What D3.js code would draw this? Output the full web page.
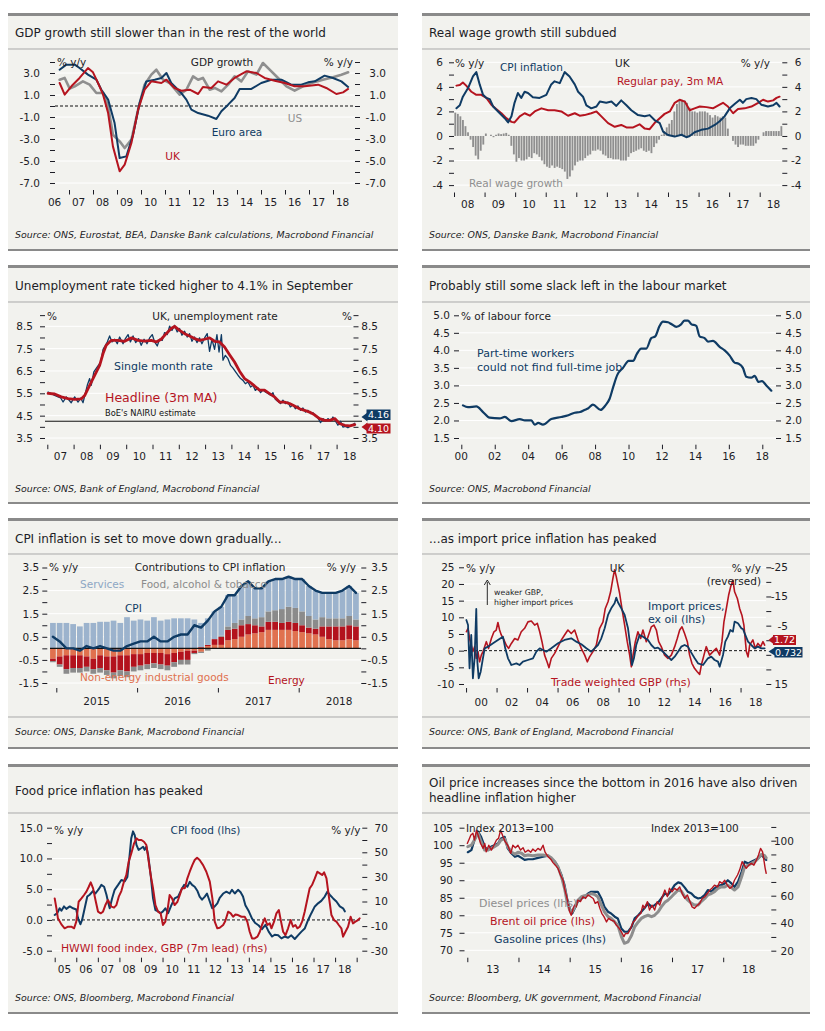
<!DOCTYPE html>
<html>
<head>
<meta charset="utf-8">
<script src="https://cdn.jsdelivr.net/npm/d3@7"></script>
<style>
  body { margin: 0; background: #fff; }
  svg text { font-family: "DejaVu Sans", sans-serif; }
</style>
</head>
<body>
<svg id="chart" width="825" height="1031"></svg>
<script>
// ---------- data ----------
// GDP growth, % y/y  [decimal year, value]
const gdpEuro = [[2006.61,3.30],[2006.89,3.76],[2007.24,3.76],[2007.44,3.45],[2007.79,2.85],[2008.14,2.39],[2008.35,1.48],[2008.63,0.58],[2008.90,-1.55],[2009.11,-4.73],[2009.39,-4.58],[2009.67,-2.61],[2009.94,0.27],[2010.22,2.24],[2010.57,2.39],[2010.85,2.55],[2011.06,3.0],[2011.26,2.09],[2011.68,1.18],[2011.89,0.58],[2012.10,-0.33],[2012.38,-0.64],[2012.79,-0.88],[2013.14,-1.18],[2013.35,-0.48],[2013.63,0.12],[2013.90,0.73],[2014.11,1.55],[2014.60,1.55],[2015.01,2.09],[2015.43,2.39],[2015.85,2.39],[2016.26,1.94],[2016.68,1.94],[2016.96,2.15],[2017.24,2.24],[2017.65,2.76],[2018.0,2.55],[2018.35,2.24],[2018.63,1.73]];
const gdpUK = [[2006.61,2.09],[2006.82,1.03],[2007.10,1.79],[2007.44,2.55],[2007.79,3.45],[2008.0,3.06],[2008.21,2.09],[2008.42,1.03],[2008.63,-0.64],[2008.83,-3.67],[2009.11,-5.94],[2009.32,-5.33],[2009.60,-3.36],[2009.88,-0.33],[2010.15,1.48],[2010.43,2.24],[2010.85,2.09],[2011.06,2.39],[2011.40,1.64],[2011.68,1.39],[2012.03,1.48],[2012.38,1.09],[2012.58,1.73],[2012.93,1.64],[2013.21,2.24],[2013.56,1.94],[2013.90,2.55],[2014.39,3.15],[2014.81,3.0],[2015.15,2.55],[2015.57,2.30],[2015.99,2.09],[2016.40,1.79],[2016.82,1.79],[2017.38,1.94],[2017.72,1.64],[2018.14,1.09],[2018.42,1.24],[2018.63,1.55]];
const gdpUS = [[2006.61,2.39],[2006.82,2.55],[2007.03,1.58],[2007.24,1.79],[2007.58,2.24],[2007.86,1.94],[2008.14,1.18],[2008.42,1.18],[2008.63,-0.03],[2008.83,-2.61],[2009.11,-3.21],[2009.32,-3.82],[2009.60,-3.06],[2009.88,-0.33],[2010.15,1.94],[2010.43,2.85],[2010.64,3.30],[2010.92,2.39],[2011.19,2.09],[2011.61,1.03],[2011.89,1.48],[2012.17,2.70],[2012.38,2.39],[2012.58,2.55],[2012.86,1.48],[2013.07,1.64],[2013.35,1.33],[2013.63,1.94],[2013.90,2.70],[2014.18,2.24],[2014.46,3.15],[2014.81,2.85],[2015.08,3.91],[2015.36,3.30],[2015.71,2.55],[2016.06,1.79],[2016.40,1.39],[2016.75,1.79],[2017.10,2.09],[2017.58,2.39],[2018.0,2.61],[2018.35,2.85],[2018.63,3.06]];

// Real wages: monthly real wage growth from Jan 2008, CPI and regular pay
const wageStart = 2008;
const realWage = [
  1.9,1.8,1.6,1.3,0.8,0.3,-0.3,-0.9,-1.6,-1.9,-1.2,-0.7,
  0.2,0.0,0.1,-0.1,0.1,0.2,0.15,0.2,0.25,0.1,-0.8,-1.5,
  -2.1,-1.8,-2.0,-2.0,-1.9,-1.7,-1.8,-1.4,-1.5,-1.7,-2.0,-2.3,
  -2.5,-2.6,-2.4,-2.6,-2.5,-2.6,-2.7,-2.9,-3.5,-3.3,-2.8,-2.4,
  -2.1,-2.0,-2.0,-1.8,-1.6,-1.5,-1.2,-1.2,-1.1,-1.2,-1.5,-1.6,
  -1.8,-1.8,-1.9,-1.9,-1.9,-2.0,-2.0,-2.0,-1.7,-1.4,-1.3,-1.2,
  -1.1,-1.0,-1.2,-1.3,-1.2,-1.4,-0.9,-0.6,-0.3,0.1,0.4,0.7,
  1.0,1.3,2.0,2.6,2.9,2.95,2.9,2.7,2.3,2.0,2.0,1.9,
  2.0,2.0,2.0,1.9,1.7,1.5,1.7,1.6,1.5,1.6,1.5,0.6,
  0.0,-0.4,-0.7,-0.9,-0.7,-0.7,-0.8,-0.8,-0.8,-0.8,-0.6,-0.3,
  0.0,0.3,0.4,0.4,0.4,0.4,0.4,0.4,0.8];
const ukCPI = [[2008.08,2.26],[2008.19,2.5],[2008.29,3.2],[2008.46,3.9],[2008.62,4.85],[2008.73,5.2],[2008.84,4.2],[2008.95,3.35],[2009.06,3.1],[2009.17,3.0],[2009.28,2.4],[2009.44,2.0],[2009.66,1.45],[2009.77,1.1],[2009.88,1.6],[2009.98,2.7],[2010.09,3.5],[2010.20,3.1],[2010.31,3.6],[2010.42,3.5],[2010.58,3.15],[2010.80,3.1],[2011.02,3.35],[2011.18,4.2],[2011.29,4.45],[2011.46,4.3],[2011.62,5.2],[2011.78,4.85],[2011.95,4.2],[2012.06,3.6],[2012.22,3.2],[2012.33,2.5],[2012.49,2.25],[2012.66,2.4],[2012.77,2.8],[2012.98,2.7],[2013.15,2.8],[2013.31,2.45],[2013.47,2.9],[2013.64,2.5],[2013.80,2.1],[2014.02,1.7],[2014.24,1.6],[2014.40,1.7],[2014.56,1.3],[2014.73,1.05],[2014.84,0.35],[2015.00,0.08],[2015.22,-0.05],[2015.44,0.1],[2015.60,-0.1],[2015.71,0.0],[2015.87,0.3],[2016.09,0.5],[2016.31,0.6],[2016.53,0.9],[2016.69,1.2],[2016.85,1.6],[2017.02,2.25],[2017.18,2.6],[2017.35,2.95],[2017.45,2.7],[2017.56,3.0],[2017.73,3.1],[2017.89,3.0],[2018.05,2.55],[2018.27,2.4],[2018.44,2.5],[2018.55,2.7],[2018.65,2.4]];
const regularPay = [[2008.08,4.1],[2008.19,4.15],[2008.29,4.35],[2008.40,4.1],[2008.57,3.6],[2008.73,3.35],[2008.89,3.35],[2009.06,3.1],[2009.22,2.55],[2009.38,2.2],[2009.55,1.85],[2009.71,1.45],[2009.88,1.15],[2009.98,1.1],[2010.15,1.6],[2010.31,1.85],[2010.48,1.65],[2010.64,2.0],[2010.86,2.25],[2011.08,2.1],[2011.29,2.1],[2011.51,2.0],[2011.73,1.65],[2011.95,1.85],[2012.11,1.65],[2012.27,1.7],[2012.49,1.85],[2012.66,2.0],[2012.82,1.6],[2013.04,1.05],[2013.26,0.75],[2013.47,0.9],[2013.64,0.7],[2013.86,0.7],[2014.07,0.95],[2014.24,0.6],[2014.40,0.55],[2014.56,1.05],[2014.73,1.45],[2014.89,1.8],[2015.06,2.0],[2015.22,2.7],[2015.38,2.95],[2015.55,2.8],[2015.71,2.1],[2015.87,2.25],[2016.04,2.4],[2016.26,2.35],[2016.47,2.25],[2016.69,2.55],[2016.80,2.7],[2016.96,2.4],[2017.13,1.85],[2017.29,2.2],[2017.51,2.25],[2017.73,2.4],[2017.95,2.7],[2018.11,2.95],[2018.27,2.8],[2018.44,2.9],[2018.55,3.1],[2018.65,3.2]];

// Unemployment, %
const unempHeadline = [[2007.03,5.5],[2007.28,5.47],[2007.53,5.34],[2007.79,5.26],[2008.04,5.23],[2008.29,5.25],[2008.42,5.4],[2008.61,5.86],[2008.80,6.3],[2008.99,6.75],[2009.12,7.28],[2009.24,7.65],[2009.43,7.87],[2009.69,7.87],[2009.94,7.83],[2010.19,7.98],[2010.45,7.87],[2010.70,7.84],[2010.95,7.87],[2011.14,7.8],[2011.33,7.92],[2011.52,8.17],[2011.71,8.4],[2011.84,8.5],[2012.03,8.32],[2012.22,8.17],[2012.41,8.07],[2012.60,7.95],[2012.79,7.87],[2012.98,7.92],[2013.17,7.98],[2013.36,7.83],[2013.55,7.8],[2013.74,7.57],[2013.93,7.23],[2014.12,6.9],[2014.31,6.49],[2014.50,6.16],[2014.69,6.01],[2014.88,5.83],[2015.07,5.64],[2015.26,5.64],[2015.45,5.49],[2015.64,5.34],[2015.83,5.11],[2016.02,5.11],[2016.21,5.04],[2016.40,4.93],[2016.59,4.81],[2016.78,4.74],[2016.97,4.66],[2017.16,4.54],[2017.35,4.37],[2017.55,4.29],[2017.74,4.29],[2017.93,4.37],[2018.12,4.14],[2018.31,4.07],[2018.50,4.04],[2018.69,4.10]];
const unempSingle = [[2007.03,5.56],[2007.15,5.49],[2007.28,5.41],[2007.41,5.34],[2007.51,5.29],[2007.60,5.11],[2007.72,5.34],[2007.91,5.08],[2008.04,5.34],[2008.17,5.11],[2008.27,5.29],[2008.36,5.08],[2008.52,5.86],[2008.61,6.16],[2008.67,5.86],[2008.77,6.46],[2008.90,6.68],[2009.03,6.90],[2009.12,7.47],[2009.21,7.65],[2009.28,7.80],[2009.37,8.07],[2009.46,7.80],[2009.56,7.92],[2009.66,7.72],[2009.75,8.02],[2009.88,7.72],[2009.97,7.95],[2010.07,8.13],[2010.16,7.80],[2010.26,8.07],[2010.36,7.77],[2010.47,7.95],[2010.57,7.65],[2010.68,7.92],[2010.79,7.72],[2010.89,7.98],[2010.99,8.13],[2011.08,7.80],[2011.18,7.62],[2011.27,7.92],[2011.37,7.87],[2011.46,8.22],[2011.56,8.13],[2011.65,8.51],[2011.74,8.32],[2011.84,8.54],[2011.94,8.25],[2012.03,8.40],[2012.12,8.10],[2012.22,8.28],[2012.32,8.02],[2012.41,8.17],[2012.50,7.83],[2012.60,8.02],[2012.69,7.77],[2012.79,7.98],[2012.88,7.72],[2012.98,7.98],[2013.08,8.17],[2013.17,7.38],[2013.26,7.92],[2013.36,7.47],[2013.45,8.13],[2013.53,7.35],[2013.62,8.13],[2013.68,6.98],[2013.77,7.20],[2013.87,7.05],[2013.97,6.75],[2014.06,6.63],[2014.16,6.46],[2014.25,6.31],[2014.35,6.16],[2014.44,6.08],[2014.53,5.93],[2014.63,6.01],[2014.73,5.78],[2014.82,5.86],[2014.91,5.63],[2015.01,5.74],[2015.11,5.53],[2015.20,5.66],[2015.29,5.56],[2015.39,5.49],[2015.49,5.41],[2015.58,5.53],[2015.67,5.23],[2015.77,5.14],[2015.87,5.04],[2015.96,5.19],[2016.05,5.04],[2016.15,5.11],[2016.24,4.89],[2016.34,4.99],[2016.43,4.81],[2016.53,4.93],[2016.63,4.74],[2016.72,4.84],[2016.82,4.66],[2016.91,4.74],[2017.01,4.59],[2017.10,4.63],[2017.19,4.49],[2017.29,4.40],[2017.39,4.19],[2017.48,4.37],[2017.58,4.25],[2017.67,4.37],[2017.77,4.25],[2017.86,4.44],[2017.96,4.25],[2018.05,4.07],[2018.15,4.25],[2018.24,3.99],[2018.33,4.02],[2018.43,3.96],[2018.53,4.04],[2018.62,4.10],[2018.69,4.16]];
const nairu = 4.25;

// Part-time workers who could not find full-time job, % of labour force
const partTime = [[2000.10,2.43],[2000.40,2.38],[2000.90,2.40],[2001.30,2.24],[2001.69,2.08],[2002.29,2.06],[2002.60,2.10],[2002.99,1.98],[2003.50,2.04],[2003.80,2.00],[2004.19,2.00],[2004.39,1.88],[2004.60,1.93],[2004.88,1.88],[2005.38,2.04],[2005.98,2.10],[2006.40,2.15],[2006.78,2.22],[2007.10,2.24],[2007.37,2.30],[2007.60,2.35],[2007.87,2.45],[2008.33,2.30],[2008.60,2.42],[2008.87,2.62],[2009.10,2.98],[2009.33,3.30],[2009.67,3.50],[2010.01,3.70],[2010.27,3.70],[2010.50,3.90],[2010.76,4.05],[2011.06,4.05],[2011.36,4.35],[2011.60,4.40],[2011.86,4.70],[2012.06,4.82],[2012.36,4.80],[2012.56,4.75],[2012.86,4.67],[2013.16,4.75],[2013.35,4.85],[2013.55,4.85],[2013.75,4.75],[2014.05,4.70],[2014.25,4.40],[2014.55,4.35],[2014.75,4.25],[2015.05,4.27],[2015.45,4.10],[2015.75,4.00],[2016.05,3.85],[2016.34,3.65],[2016.58,3.62],[2016.84,3.50],[2017.04,3.25],[2017.34,3.22],[2017.54,3.27],[2017.78,3.10],[2017.98,3.12],[2018.24,3.00],[2018.54,2.85]];

// CPI contributions, monthly Dec 2014 - Sep 2018, pp
const cpiFirstMonth = 2014 + 11 / 12;
const cpiNeig = [-0.45,-0.35,-0.3,-0.3,-0.3,-0.35,-0.45,-0.3,-0.35,-0.35,-0.3,-0.3, -0.25,-0.25,-0.2,-0.2,-0.2,-0.25,-0.2,-0.15,-0.1,-0.1,-0.15,0.1, 0.15,0.15,0.35,0.4,0.5,0.6,0.65,0.7,0.8,0.8,0.8,0.8, 0.75,0.7,0.65,0.6,0.5,0.4,0.35,0.35,0.4,0.35];
const cpiEnergy = [-0.1,-0.35,-0.6,-0.55,-0.55,-0.45,-0.45,-0.55,-0.6,-0.7,-0.65,-0.7, -0.55,-0.5,-0.5,-0.45,-0.5,-0.5,-0.4,-0.35,-0.4,-0.1,0.05,0.05, 0.25,0.35,0.45,0.45,0.5,0.45,0.35,0.25,0.35,0.35,0.3,0.35, 0.35,0.3,0.25,0.25,0.45,0.55,0.6,0.6,0.6,0.6];
const cpiFood = [-0.05,-0.1,-0.2,-0.2,-0.2,-0.2,-0.2,-0.2,-0.2,-0.25,-0.25,-0.25, -0.2,-0.2,-0.2,-0.2,-0.2,-0.2,-0.2,-0.2,-0.2,-0.05,-0.05,-0.1, 0.0,0.05,0.15,0.25,0.25,0.35,0.3,0.4,0.45,0.5,0.6,0.65, 0.65,0.6,0.5,0.4,0.4,0.35,0.35,0.35,0.4,0.3];
const cpiServices = [1.1,1.1,1.1,1.05,0.95,1.1,1.1,1.15,1.15,1.2,1.1,1.35, 1.2,1.25,1.2,1.35,1.2,1.25,1.3,1.3,1.3,1.25,1.05,1.15, 1.2,1.25,1.35,1.2,1.45,1.5,1.3,1.25,1.3,1.35,1.3,1.3, 1.25,1.4,1.3,1.25,1.05,1.1,1.1,1.2,1.3,1.15];
const cpiHeadline = [0.5,0.3,0.0,0.0,-0.1,0.1,0.0,0.1,0.0,-0.1,-0.1,0.1, 0.2,0.3,0.3,0.5,0.3,0.3,0.5,0.6,0.6,1.0,0.9,1.2, 1.6,1.8,2.3,2.3,2.7,2.9,2.6,2.6,2.9,3.0,3.0,3.1, 3.0,3.0,2.7,2.5,2.4,2.4,2.4,2.5,2.7,2.4];

// Import prices ex oil (lhs) and trade weighted GBP (rhs, reversed), % y/y
const importPrices = [[1999.02,9.2],[1999.13,7.7],[1999.23,-5.3],[1999.34,4.7],[1999.45,-8.3],[1999.56,-2.3],[1999.67,12.5],[1999.74,-3.3],[1999.83,-8.3],[1999.96,-6.3],[2000.07,-3.3],[2000.22,0.7],[2000.44,1.2],[2000.77,2.2],[2001.09,3.2],[2001.42,4.2],[2001.57,0.7],[2001.75,-2.3],[2001.97,-4.3],[2002.30,-3.8],[2002.51,-4.3],[2002.73,-3.3],[2003.06,-2.8],[2003.39,-2.3],[2003.61,-0.3],[2003.83,0.7],[2004.04,0.2],[2004.26,-0.3],[2004.59,0.7],[2005.03,2.2],[2005.46,3.2],[2005.90,3.7],[2006.23,2.7],[2006.56,1.9],[2006.89,0.7],[2007.21,-0.3],[2007.43,0.7],[2007.65,1.7],[2007.87,3.7],[2008.09,6.7],[2008.31,10.7],[2008.52,12.7],[2008.74,14.2],[2008.85,15.9],[2008.96,14.5],[2009.18,12.7],[2009.40,10.7],[2009.62,6.7],[2009.79,0.7],[2009.88,-4.3],[2010.01,-2.3],[2010.16,1.7],[2010.38,4.7],[2010.60,4.2],[2010.93,3.2],[2011.15,1.7],[2011.37,0.7],[2011.58,0.9],[2011.80,0.2],[2012.02,-0.8],[2012.24,-1.8],[2012.46,-2.8],[2012.68,-1.8],[2012.90,-0.3],[2013.11,1.2],[2013.33,1.7],[2013.55,1.2],[2013.73,-0.3],[2013.99,-2.3],[2014.21,-3.8],[2014.54,-4.3],[2014.86,-2.3],[2015.08,-1.8],[2015.30,-2.8],[2015.52,-3.3],[2015.63,-4.8],[2015.85,-1.3],[2016.00,2.7],[2016.17,4.2],[2016.33,6.2],[2016.50,5.7],[2016.61,8.7],[2016.83,8.2],[2017.05,6.7],[2017.16,6.5],[2017.27,5.2],[2017.49,2.7],[2017.70,1.7],[2017.92,0.7],[2018.14,1.2],[2018.36,0.7],[2018.58,0.7]];
const tradeGBP = [[1999.02,-2.9],[1999.13,-4.1],[1999.23,-0.6],[1999.34,1.7],[1999.45,3.9],[1999.56,2.2],[1999.67,6.2],[1999.78,3.9],[1999.89,7.4],[2000.00,5.1],[2000.11,3.9],[2000.22,2.2],[2000.33,0.5],[2000.48,2.8],[2000.66,-0.6],[2000.83,-2.9],[2000.98,-3.5],[2001.09,-6.1],[2001.20,-3.5],[2001.31,-1.8],[2001.49,-0.1],[2001.64,1.7],[2001.79,2.8],[2001.97,1.1],[2002.19,-0.6],[2002.40,-0.1],[2002.62,-2.9],[2002.84,-4.1],[2003.06,-6.3],[2003.28,-6.6],[2003.50,-5.2],[2003.67,-5.8],[2003.83,-2.9],[2003.98,0.5],[2004.15,5.1],[2004.31,7.4],[2004.44,9.4],[2004.59,6.2],[2004.81,4.5],[2005.03,2.2],[2005.25,-0.1],[2005.46,-1.8],[2005.68,-3.5],[2005.90,-2.3],[2006.12,-3.5],[2006.34,-0.1],[2006.56,2.8],[2006.78,5.1],[2006.95,7.4],[2007.10,5.7],[2007.32,3.9],[2007.54,1.7],[2007.76,-4.1],[2007.98,-6.3],[2008.13,-10.9],[2008.31,-13.2],[2008.48,-16.6],[2008.63,-21.2],[2008.74,-24.1],[2008.85,-21.8],[2008.96,-18.9],[2009.07,-16.1],[2009.22,-10.9],[2009.40,-5.2],[2009.57,0.5],[2009.73,5.1],[2009.84,9.1],[2009.95,5.1],[2010.10,0.5],[2010.27,-2.9],[2010.45,-0.6],[2010.60,-3.5],[2010.82,0.5],[2010.97,-1.8],[2011.15,-4.6],[2011.32,-5.2],[2011.48,-3.5],[2011.63,0.5],[2011.80,2.2],[2012.02,5.1],[2012.24,6.2],[2012.46,5.1],[2012.68,2.2],[2012.85,-0.6],[2013.01,-3.5],[2013.16,-4.6],[2013.33,-2.3],[2013.51,0.5],[2013.66,5.1],[2013.81,7.9],[2013.99,9.7],[2014.16,10.8],[2014.32,11.7],[2014.43,8.5],[2014.60,5.1],[2014.75,2.2],[2014.97,5.1],[2015.19,3.9],[2015.41,2.8],[2015.63,5.1],[2015.78,0.5],[2015.91,-6.3],[2016.07,-10.9],[2016.22,-15.5],[2016.35,-18.3],[2016.50,-20.6],[2016.61,-16.6],[2016.79,-14.3],[2016.94,-10.9],[2017.09,-8.6],[2017.22,-5.2],[2017.38,3.9],[2017.49,5.7],[2017.60,1.7],[2017.81,-0.1],[2017.97,2.8],[2018.14,1.1],[2018.32,2.2],[2018.47,0.5],[2018.58,1.7]];

// Food: CPI food (lhs) and HWWI food index in GBP, 7m lead (rhs), % y/y
const cpiFoodInfl = [[2005.00,0.8],[2005.12,1.1],[2005.23,1.9],[2005.31,1.5],[2005.43,2.2],[2005.54,1.8],[2005.70,2.2],[2005.85,1.9],[2006.00,1.7],[2006.08,0.3],[2006.19,-0.7],[2006.27,0.0],[2006.39,1.9],[2006.51,3.8],[2006.62,4.1],[2006.78,4.7],[2006.89,4.3],[2007.04,5.0],[2007.16,5.7],[2007.29,5.4],[2007.40,4.1],[2007.47,3.0],[2007.55,1.9],[2007.66,3.5],[2007.78,4.9],[2007.94,5.7],[2008.09,6.5],[2008.25,6.3],[2008.37,7.0],[2008.46,10.0],[2008.55,13.3],[2008.63,14.4],[2008.71,13.8],[2008.79,12.2],[2008.89,11.4],[2009.02,11.7],[2009.10,11.9],[2009.17,11.4],[2009.25,11.9],[2009.33,10.6],[2009.45,7.3],[2009.56,3.5],[2009.67,1.6],[2009.79,1.4],[2009.91,1.1],[2010.02,1.4],[2010.13,1.9],[2010.26,1.1],[2010.41,2.4],[2010.56,3.5],[2010.72,3.8],[2010.87,4.9],[2011.00,5.7],[2011.15,5.4],[2011.26,6.2],[2011.37,5.7],[2011.49,5.4],[2011.62,4.7],[2011.72,3.8],[2011.83,3.3],[2011.96,3.8],[2012.06,4.3],[2012.19,3.0],[2012.30,1.9],[2012.42,2.2],[2012.54,2.7],[2012.65,3.6],[2012.81,4.3],[2012.96,4.6],[2013.11,4.3],[2013.22,4.9],[2013.35,4.3],[2013.50,4.9],[2013.62,4.5],[2013.73,3.8],[2013.84,2.4],[2014.00,1.4],[2014.15,0.2],[2014.30,-0.5],[2014.46,-0.9],[2014.61,-1.5],[2014.77,-0.8],[2014.92,-1.9],[2015.08,-2.7],[2015.20,-2.4],[2015.36,-2.5],[2015.51,-3.0],[2015.66,-2.7],[2015.82,-2.9],[2015.97,-2.5],[2016.13,-3.1],[2016.28,-2.5],[2016.44,-1.9],[2016.59,-1.4],[2016.75,0.0],[2016.90,1.1],[2017.06,2.2],[2017.21,2.7],[2017.36,3.1],[2017.52,3.8],[2017.64,4.6],[2017.75,4.1],[2017.91,3.5],[2018.06,3.0],[2018.22,2.2],[2018.37,1.9],[2018.45,1.4]];
const hwwiFood = [[2005.00,12.5],[2005.08,4.4],[2005.15,-3.7],[2005.31,-8.6],[2005.46,-11.8],[2005.62,-10.5],[2005.77,-10.5],[2005.90,-11.8],[2006.00,-6.4],[2006.11,9.8],[2006.24,12.5],[2006.36,15.3],[2006.47,18.0],[2006.58,22.0],[2006.67,25.6],[2006.78,20.7],[2006.89,11.2],[2007.01,1.7],[2007.13,0.4],[2007.24,1.7],[2007.35,7.1],[2007.47,11.2],[2007.63,5.8],[2007.75,5.0],[2007.86,7.1],[2007.97,13.9],[2008.09,18.5],[2008.21,26.1],[2008.32,31.5],[2008.43,42.4],[2008.55,49.1],[2008.68,57.3],[2008.79,61.3],[2008.89,60.0],[2009.02,60.0],[2009.14,58.6],[2009.25,55.9],[2009.36,42.4],[2009.45,31.5],[2009.56,20.7],[2009.67,7.1],[2009.79,1.7],[2009.91,0.4],[2010.02,-9.1],[2010.13,-6.4],[2010.22,1.7],[2010.33,15.3],[2010.44,12.5],[2010.56,7.1],[2010.69,9.8],[2010.80,15.3],[2010.90,20.7],[2011.03,20.7],[2011.15,28.8],[2011.26,34.2],[2011.38,39.6],[2011.49,43.7],[2011.60,45.6],[2011.72,43.7],[2011.88,39.6],[2012.03,34.2],[2012.19,26.1],[2012.31,12.5],[2012.42,-6.4],[2012.54,-11.8],[2012.65,-11.3],[2012.81,-9.1],[2012.91,-5.9],[2013.04,1.7],[2013.16,0.4],[2013.27,-2.4],[2013.38,-0.5],[2013.50,-1.0],[2013.66,-2.4],[2013.81,-2.4],[2013.93,-6.4],[2014.04,-14.6],[2014.15,-20.0],[2014.27,-20.0],[2014.40,-18.6],[2014.51,-14.6],[2014.61,-9.1],[2014.74,-3.7],[2014.86,-9.1],[2014.97,-7.8],[2015.05,-11.8],[2015.17,-6.4],[2015.28,0.4],[2015.39,3.1],[2015.48,-5.1],[2015.59,-14.6],[2015.70,-17.3],[2015.82,-11.8],[2015.94,-5.1],[2016.05,-10.5],[2016.16,-9.1],[2016.25,-11.8],[2016.36,-10.5],[2016.47,-6.4],[2016.59,1.7],[2016.72,12.5],[2016.82,20.7],[2016.93,23.4],[2017.06,28.8],[2017.18,34.2],[2017.29,32.9],[2017.40,31.5],[2017.49,33.7],[2017.60,28.8],[2017.70,15.3],[2017.83,-1.0],[2017.95,-5.1],[2018.06,-6.4],[2018.17,-9.1],[2018.29,-11.8],[2018.37,-18.6],[2018.48,-14.6],[2018.60,-10.5],[2018.72,-2.4],[2018.83,-7.8],[2018.94,-6.4],[2019.06,-5.1],[2019.14,-3.7]];

// Oil and fuel prices, index 2013=100
const gasoline = [[2013.01,98.0],[2013.08,98.6],[2013.14,101.5],[2013.21,103.9],[2013.27,102.4],[2013.34,99.6],[2013.40,98.6],[2013.47,99.6],[2013.53,100.0],[2013.60,100.5],[2013.66,101.95],[2013.73,102.4],[2013.79,99.1],[2013.86,97.7],[2013.93,96.7],[2013.99,97.0],[2014.06,96.4],[2014.12,95.8],[2014.19,96.0],[2014.28,96.0],[2014.38,96.4],[2014.48,96.7],[2014.58,97.0],[2014.64,96.2],[2014.71,95.3],[2014.77,93.9],[2014.84,91.5],[2014.90,88.6],[2014.95,84.8],[2015.00,82.0],[2015.05,80.5],[2015.10,82.0],[2015.16,83.9],[2015.23,84.8],[2015.29,85.3],[2015.36,86.2],[2015.42,86.7],[2015.55,86.7],[2015.62,84.8],[2015.68,82.4],[2015.75,81.0],[2015.81,80.5],[2015.88,79.6],[2015.94,79.1],[2016.01,76.2],[2016.07,75.3],[2016.14,75.3],[2016.21,76.7],[2016.27,79.1],[2016.34,80.0],[2016.40,81.0],[2016.46,82.0],[2016.53,83.4],[2016.60,82.4],[2016.66,82.9],[2016.73,83.7],[2016.79,84.8],[2016.86,86.2],[2016.92,85.8],[2016.99,87.2],[2017.05,88.6],[2017.12,89.4],[2017.18,89.1],[2017.25,87.9],[2017.31,86.7],[2017.38,86.2],[2017.44,85.3],[2017.51,84.8],[2017.57,85.0],[2017.64,85.8],[2017.70,87.2],[2017.77,86.7],[2017.83,87.7],[2017.90,88.4],[2017.96,88.6],[2018.03,89.1],[2018.09,90.0],[2018.16,89.1],[2018.22,88.1],[2018.29,89.6],[2018.36,92.4],[2018.42,95.3],[2018.49,94.8],[2018.55,95.3],[2018.62,95.8],[2018.68,96.2],[2018.75,97.2],[2018.81,96.2],[2018.84,95.8]];
const diesel = [[2013.01,99.6],[2013.08,100.0],[2013.14,101.5],[2013.21,103.4],[2013.27,101.0],[2013.34,98.6],[2013.40,98.6],[2013.47,99.1],[2013.53,99.6],[2013.60,100.2],[2013.66,101.5],[2013.73,101.8],[2013.79,99.6],[2013.86,98.1],[2013.93,97.4],[2013.99,98.0],[2014.06,97.7],[2014.12,97.0],[2014.19,97.2],[2014.28,97.0],[2014.38,97.2],[2014.48,97.2],[2014.58,97.0],[2014.64,96.4],[2014.71,95.3],[2014.77,93.9],[2014.84,91.0],[2014.90,87.7],[2014.95,83.9],[2015.00,81.5],[2015.05,81.0],[2015.10,82.4],[2015.16,84.3],[2015.23,85.3],[2015.29,85.6],[2015.36,85.8],[2015.42,86.2],[2015.49,85.95],[2015.55,85.3],[2015.62,82.9],[2015.68,81.0],[2015.75,79.6],[2015.81,79.1],[2015.88,78.1],[2015.94,77.2],[2016.01,73.9],[2016.07,72.0],[2016.14,72.4],[2016.21,74.3],[2016.27,76.7],[2016.34,78.1],[2016.40,79.1],[2016.46,79.6],[2016.53,80.0],[2016.60,79.6],[2016.66,80.0],[2016.73,81.0],[2016.79,82.4],[2016.86,83.7],[2016.92,84.3],[2016.99,85.3],[2017.05,86.2],[2017.12,87.2],[2017.18,86.9],[2017.25,85.3],[2017.31,84.3],[2017.38,83.4],[2017.44,82.9],[2017.51,82.9],[2017.57,83.9],[2017.64,84.8],[2017.70,85.8],[2017.77,86.2],[2017.83,86.7],[2017.90,87.7],[2017.96,88.1],[2018.03,88.1],[2018.09,88.6],[2018.16,87.9],[2018.22,87.2],[2018.29,88.1],[2018.36,91.0],[2018.42,93.9],[2018.49,94.3],[2018.55,94.8],[2018.62,95.3],[2018.68,96.2],[2018.75,97.4],[2018.81,97.0],[2018.84,96.4]];
const brent = [[2013.00,100.5],[2013.03,101.5],[2013.07,102.9],[2013.11,103.4],[2013.14,101.5],[2013.18,104.3],[2013.21,102.9],[2013.26,100.5],[2013.31,99.1],[2013.34,100.5],[2013.37,98.1],[2013.42,100.0],[2013.47,98.6],[2013.52,100.0],[2013.57,101.5],[2013.61,101.95],[2013.65,104.3],[2013.70,102.4],[2013.74,101.0],[2013.79,100.0],[2013.85,97.7],[2013.89,100.0],[2013.94,99.3],[2013.99,100.0],[2014.04,98.6],[2014.09,99.3],[2014.13,98.0],[2014.19,98.6],[2014.24,98.0],[2014.28,98.9],[2014.33,98.3],[2014.38,99.1],[2014.43,98.6],[2014.48,100.0],[2014.52,98.0],[2014.58,96.7],[2014.63,96.0],[2014.67,95.1],[2014.72,94.3],[2014.77,93.4],[2014.82,91.5],[2014.87,90.0],[2014.90,87.7],[2014.95,84.8],[2015.00,81.0],[2015.03,80.0],[2015.07,82.0],[2015.10,82.9],[2015.13,82.4],[2015.16,84.3],[2015.21,83.9],[2015.26,85.3],[2015.31,84.8],[2015.36,85.8],[2015.41,85.3],[2015.46,84.8],[2015.50,83.4],[2015.55,83.9],[2015.59,82.0],[2015.63,80.5],[2015.67,79.6],[2015.72,78.1],[2015.76,79.1],[2015.81,78.6],[2015.87,78.3],[2015.91,77.2],[2015.96,76.4],[2016.01,75.3],[2016.06,73.9],[2016.09,74.8],[2016.14,74.8],[2016.19,76.2],[2016.24,78.1],[2016.28,78.6],[2016.34,80.0],[2016.39,80.5],[2016.43,82.9],[2016.46,82.0],[2016.52,83.9],[2016.56,81.5],[2016.61,82.9],[2016.66,81.5],[2016.71,83.9],[2016.76,82.9],[2016.80,84.8],[2016.86,87.2],[2016.91,85.3],[2016.95,87.7],[2017.00,86.7],[2017.05,87.7],[2017.10,87.2],[2017.15,88.1],[2017.20,86.2],[2017.25,84.8],[2017.30,85.8],[2017.35,83.9],[2017.39,82.4],[2017.44,82.0],[2017.50,82.9],[2017.54,83.4],[2017.59,84.8],[2017.64,85.3],[2017.69,86.2],[2017.74,87.2],[2017.78,87.7],[2017.83,88.6],[2017.89,88.1],[2017.93,89.6],[2017.98,89.1],[2018.03,90.0],[2018.08,88.6],[2018.13,87.7],[2018.17,88.1],[2018.22,90.0],[2018.28,91.5],[2018.32,92.9],[2018.37,95.3],[2018.41,94.3],[2018.45,93.4],[2018.50,94.3],[2018.55,94.8],[2018.60,94.3],[2018.65,95.8],[2018.69,97.2],[2018.73,99.1],[2018.77,98.1],[2018.80,95.3],[2018.82,93.4],[2018.84,92.0]];

// ---------- styling ----------
const NAVY = "#0f3b64", RED = "#b5141f", GREY = "#8f8f8f", TXT = "#1d1d26";
const BG = "#f2f2ee", FRAME = "#8a8a8a", SEP = "#a9a9a9";
const SERV = "#9cb3cd", FOOD = "#8b8b8b", ENERGY = "#b3121d", NEIG = "#e0714f";

const svg = d3.select("#chart");
svg.append("rect").attr("width", 825).attr("height", 1031).attr("fill", "#fff");

const yy = d => String(d % 100).padStart(2, "0");
const hy = f => v => f(v).replace("\u2212", "-");

function txt(g, x, y, s, o = {}) {
  return g.append("text").attr("x", x).attr("y", y)
    .attr("text-anchor", o.a || "start")
    .style("font-size", (o.s || 10.5) + "px")
    .style("fill", o.c || TXT)
    .style("font-style", o.i ? "italic" : null)
    .text(s);
}

function frame(x0, x1, top, bottom, titles, titleY, sepY, source, sourceY, innerY) {
  const g = svg.append("g");
  g.append("rect").attr("x", x0).attr("y", top).attr("width", x1 - x0).attr("height", bottom - top).attr("fill", BG);
  g.append("rect").attr("x", x0).attr("y", top).attr("width", x1 - x0).attr("height", 3).attr("fill", FRAME);
  g.append("rect").attr("x", x0).attr("y", bottom - 2).attr("width", x1 - x0).attr("height", 2).attr("fill", FRAME);
  g.append("line").attr("x1", x0).attr("x2", x1).attr("y1", sepY).attr("y2", sepY).attr("stroke", SEP).attr("stroke-width", 1);
  if (innerY) g.append("line").attr("x1", x0).attr("x2", x1).attr("y1", innerY).attr("y2", innerY).attr("stroke", SEP).attr("stroke-width", 1);
  titles.forEach((t, i) => txt(g, x0 + 7, titleY + i * 14.5, t, { s: 12 }));
  txt(g, x0 + 7, sourceY, source, { s: 9.4, i: true });
  return svg.append("g");
}

function grid(g, y, vals, xa, xb) {
  g.append("g").selectAll("line").data(vals).enter().append("line")
    .attr("x1", xa).attr("x2", xb).attr("y1", d => y(d)).attr("y2", d => y(d))
    .attr("stroke", "#ffffff").attr("stroke-width", 1);
}

function yAxis(g, y, o) {
  const ax = (o.side === "left" ? d3.axisLeft(y) : d3.axisRight(y))
    .tickValues(o.ticks).tickSize(5).tickPadding(o.pad || 4).tickFormat(o.label);
  const a = g.append("g").attr("transform", `translate(${o.x},0)`).attr("color", TXT).call(ax);
  a.select(".domain").remove();
  a.selectAll("line").attr("stroke-width", 1);
  a.selectAll("text").style("font-size", "10.5px");
  if (o.side === "right") a.selectAll("text").attr("text-anchor", "end").attr("x", o.endX - o.x);
  return a;
}

function xAxis(g, x, yTop, ticks, labels, yLab, fmt) {
  const ax = d3.axisBottom(x).tickValues(ticks).tickSize(4.5).tickFormat("");
  const a = g.append("g").attr("transform", `translate(0,${yTop})`).attr("color", TXT).call(ax);
  a.select(".domain").remove();
  g.append("g").selectAll("text").data(labels).enter().append("text")
    .attr("x", d => x(d.at)).attr("y", yLab).attr("text-anchor", "middle")
    .style("font-size", "10.5px").style("fill", TXT).text(d => fmt(d.v));
}

function path(g, data, x, y, color, w, curve) {
  g.append("path").datum(data)
    .attr("fill", "none").attr("stroke", color).attr("stroke-width", w)
    .attr("stroke-linejoin", "round").attr("stroke-linecap", "round")
    .attr("d", d3.line().x(d => x(d[0])).y(d => y(d[1])).curve(curve || d3.curveLinear));
}

function dashedZero(g, yv, xa, xb) {
  g.append("line").attr("x1", xa).attr("x2", xb).attr("y1", yv).attr("y2", yv)
    .attr("stroke", "#111").attr("stroke-width", 1).attr("stroke-dasharray", "3,2");
}

function tag(g, bx, by, w, h, tipX, tipY, fill, s) {
  g.append("path").attr("d", `M${tipX},${tipY}L${bx + 1},${tipY - 4.5}L${bx + 1},${tipY + 4.5}Z`).attr("fill", fill);
  g.append("rect").attr("x", bx).attr("y", by).attr("width", w).attr("height", h).attr("fill", fill);
  txt(g, bx + w / 2, by + h / 2 + 3.4, s, { a: "middle", s: 9.5, c: "#fff" });
}

// ---------- 1. GDP growth ----------
(function () {
  const g = frame(8, 398, 13, 251, ["GDP growth still slower than in the rest of the world"], 37, 49,
    "Source: ONS, Eurostat, BEA, Danske Bank calculations, Macrobond Financial", 238);
  const x = d3.scaleLinear().domain([2007, 2018]).range([69, 333]);
  const y = d3.scaleLinear().domain([-7, 3]).range([183, 73]);
  const lab = d => (Math.abs(d % 2) === 1 ? hy(d3.format(".1f"))(d) : "");
  grid(g, y, [-7, -5, -3, -1, 1, 3], 55, 355);
  yAxis(g, y, { side: "left", x: 55, ticks: d3.range(-7, 5), label: lab, pad: 10 });
  yAxis(g, y, { side: "right", x: 355, ticks: d3.range(-7, 5), label: lab, endX: 386 });
  xAxis(g, x, 190, d3.range(2007, 2019), d3.range(2006, 2019).map(v => ({ v, at: v + 0.4 })), 206, yy);
  dashedZero(g, y(0), 55, 355);
  path(g, gdpUS, x, y, GREY, 2.6);
  path(g, gdpEuro, x, y, NAVY, 2);
  path(g, gdpUK, x, y, RED, 2);
  txt(g, 57, 66, "% y/y");
  txt(g, 222, 66, "GDP growth", { a: "middle" });
  txt(g, 353, 66, "% y/y", { a: "end" });
  txt(g, 237, 136, "Euro area", { a: "middle", c: NAVY });
  txt(g, 295, 122, "US", { a: "middle", c: GREY });
  txt(g, 172.5, 159.5, "UK", { a: "middle", c: RED });
})();

// ---------- 2. Real wage growth ----------
(function () {
  const g = frame(422, 810, 13, 251, ["Real wage growth still subdued"], 37, 49,
    "Source: ONS, Danske Bank, Macrobond Financial", 238);
  const x = d3.scaleLinear().domain([2008, 2018]).range([454, 759.7]);
  const y = d3.scaleLinear().domain([-4, 6]).range([185.1, 62.3]);
  const lab = d => (d % 2 === 0 ? String(d) : "");
  grid(g, y, [-4, -2, 2, 4, 6], 454, 782);
  yAxis(g, y, { side: "left", x: 454, ticks: d3.range(-4, 7), label: lab, pad: 6 });
  yAxis(g, y, { side: "right", x: 782.3, ticks: d3.range(-4, 7), label: lab, endX: 801.5 });
  xAxis(g, x, 192.5, d3.range(2008, 2019), d3.range(2008, 2019).map(v => ({ v, at: v + 0.45 })), 208, yy);
  const bw = (x(2009) - x(2008)) / 12;
  g.append("g").selectAll("rect").data(realWage).enter().append("rect")
    .attr("x", (d, i) => x(wageStart + i / 12) + 0.35)
    .attr("width", bw - 0.7)
    .attr("y", d => Math.min(y(d), y(0)))
    .attr("height", d => Math.abs(y(d) - y(0)))
    .attr("fill", GREY);
  path(g, regularPay, x, y, RED, 2);
  path(g, ukCPI, x, y, NAVY, 2);
  txt(g, 455, 67, "% y/y");
  txt(g, 500, 71, "CPI inflation", { c: NAVY });
  txt(g, 615, 67, "UK");
  txt(g, 770, 67, "% y/y", { a: "end" });
  txt(g, 617, 84.5, "Regular pay, 3m MA", { c: RED });
  txt(g, 469, 186.5, "Real wage growth", { c: GREY });
})();

// ---------- 3. Unemployment ----------
(function () {
  const g = frame(8, 398, 265, 504, ["Unemployment rate ticked higher to 4.1% in September"], 290, 302,
    "Source: ONS, Bank of England, Macrobond Financial", 492);
  const x = d3.scaleLinear().domain([2007, 2018]).range([47.3, 336.6]);
  const y = d3.scaleLinear().domain([3.5, 8.5]).range([438, 326.3]);
  const tv = d3.range(3.5, 9.01, 0.5);
  const lab = d => (Math.abs((d - 3.5) % 1) < 1e-6 && d < 8.9 ? d3.format(".1f")(d) : "");
  grid(g, y, [3.5, 4.5, 5.5, 6.5, 7.5, 8.5], 45, 353.5);
  yAxis(g, y, { side: "left", x: 45, ticks: tv, label: lab, pad: 7 });
  // the 4.5 label on the right sits under the value tag, as in the original
  yAxis(g, y, { side: "right", x: 353.5, ticks: tv, label: d => (d === 4.5 ? "" : lab(d)), endX: 378 });
  xAxis(g, x, 444.7, d3.range(2007, 2019), d3.range(2007, 2019).map(v => ({ v, at: v + 0.5 })), 460, yy);
  g.append("line").attr("x1", 45).attr("x2", 362).attr("y1", y(nairu)).attr("y2", y(nairu))
    .attr("stroke", "#111").attr("stroke-width", 1);
  path(g, unempSingle, x, y, NAVY, 1.3);
  path(g, unempHeadline, x, y, RED, 2.8);
  txt(g, 47, 319.5, "%");
  txt(g, 215, 319.5, "UK, unemployment rate", { a: "middle" });
  txt(g, 352, 319.5, "%", { a: "end" });
  txt(g, 114, 370, "Single month rate", { c: NAVY, s: 11 });
  txt(g, 105, 401.5, "Headline (3m MA)", { c: RED, s: 12.5 });
  txt(g, 105, 416, "BoE's NAIRU estimate", { s: 8.3, c: "#111" });
  const last = unempSingle[unempSingle.length - 1][1];
  const lastH = unempHeadline[unempHeadline.length - 1][1];
  tag(g, 366.5, 409.5, 24, 10.5, 361.5, 417, NAVY, last.toFixed(2));
  tag(g, 366.5, 423.5, 24, 10, 361.5, 427, RED, lastH.toFixed(2));
})();

// ---------- 4. Part-time workers ----------
(function () {
  const g = frame(422, 810, 265, 504, ["Probably still some slack left in the labour market"], 290, 302,
    "Source: ONS, Macrobond Financial", 492);
  const x = d3.scaleLinear().domain([2000, 2018]).range([461.3, 762.3]);
  const y = d3.scaleLinear().domain([1.5, 5.0]).range([438, 315.3]);
  const tv = d3.range(1.5, 5.01, 0.5);
  const lab = d3.format(".1f");
  grid(g, y, tv, 459, 776);
  yAxis(g, y, { side: "left", x: 459, ticks: tv, label: lab, pad: 4 });
  yAxis(g, y, { side: "right", x: 776, ticks: tv, label: lab, endX: 802 });
  xAxis(g, x, 444.7, d3.range(2000, 2019, 2), d3.range(2000, 2019, 2).map(v => ({ v, at: v })), 460, yy);
  path(g, partTime, x, y, NAVY, 2.2, d3.curveMonotoneX);
  txt(g, 461, 319.5, "% of labour force");
  txt(g, 477, 357, "Part-time workers", { c: NAVY, s: 11 });
  txt(g, 477, 370.5, "could not find full-time job", { c: NAVY, s: 11 });
})();

// ---------- 5. CPI contributions ----------
(function () {
  const g = frame(8, 398, 518, 749, ["CPI inflation is set to move down gradually..."], 543, 554,
    "Source: ONS, Danske Bank, Macrobond Financial", 735, 717);
  const x = d3.scaleLinear().domain([2015, 2018]).range([56.3, 298.7]);
  const y = d3.scaleLinear().domain([-1.5, 3.5]).range([683, 567.5]);
  const tv = d3.range(-1.5, 3.51, 0.5);
  const lab = d => (Math.abs(((d + 1.5) % 1)) < 1e-6 ? hy(d3.format(".1f"))(d) : "");
  grid(g, y, [-1.5, -0.5, 0.5, 1.5, 2.5, 3.5], 47, 361);
  yAxis(g, y, { side: "left", x: 47.3, ticks: tv, label: lab, pad: 3 });
  yAxis(g, y, { side: "right", x: 361.3, ticks: tv, label: lab, endX: 388 });
  xAxis(g, x, 688, d3.range(2015, 2019), d3.range(2015, 2019).map(v => ({ v, at: v + 0.5 })), 704.5, d => String(d));
  const rows = cpiServices.map((s, i) => ({ i, neig: cpiNeig[i], energy: cpiEnergy[i], food: cpiFood[i], serv: s }));
  const keys = ["neig", "energy", "food", "serv"];
  const colors = { neig: NEIG, energy: ENERGY, food: FOOD, serv: SERV };
  const stacked = d3.stack().keys(keys).offset(d3.stackOffsetDiverging)(rows);
  const mw = (x(2016) - x(2015)) / 12;
  stacked.forEach(layer => {
    g.append("g").selectAll("rect").data(layer).enter().append("rect")
      .attr("x", d => x(cpiFirstMonth + d.data.i / 12) + 0.5)
      .attr("width", mw - 1)
      .attr("y", d => y(Math.max(d[0], d[1])))
      .attr("height", d => Math.abs(y(d[0]) - y(d[1])))
      .attr("fill", colors[layer.key]);
  });
  g.append("line").attr("x1", 50).attr("x2", 361).attr("y1", y(0)).attr("y2", y(0)).attr("stroke", "#111").attr("stroke-width", 1.2);
  path(g, cpiHeadline.map((v, i) => [cpiFirstMonth + (i + 0.5) / 12, v]), x, y, NAVY, 2.4);
  txt(g, 49, 571, "% y/y");
  txt(g, 210, 571, "Contributions to CPI inflation", { a: "middle" });
  txt(g, 356, 571, "% y/y", { a: "end" });
  txt(g, 80, 588, "Services", { c: "#8ea7c4" });
  txt(g, 141, 588, "Food, alcohol & tobacco", { c: "#8b8b8b" });
  txt(g, 125, 612, "CPI", { c: NAVY });
  txt(g, 80, 681, "Non-energy industrial goods", { c: NEIG });
  txt(g, 268, 684, "Energy", { c: ENERGY });
})();

// ---------- 6. Import prices ----------
(function () {
  const g = frame(422, 810, 518, 749, ["...as import price inflation has peaked"], 543, 554,
    "Source: ONS, Bank of England, Macrobond Financial", 735, 717);
  const x = d3.scaleLinear().domain([2000, 2018]).range([481.3, 755.8]);
  const yL = d3.scaleLinear().domain([-10, 25]).range([684, 567.3]);
  const yR = d3.scaleLinear().domain([15, -25]).range([684, 567.3]);
  const lv = d3.range(-10, 26, 5);
  grid(g, yL, lv, 464, 766);
  yAxis(g, yL, { side: "left", x: 464, ticks: lv, label: String, pad: 4.5 });
  // the 5 label on the right is covered by the value tag in the original
  yAxis(g, yR, { side: "right", x: 766.3, ticks: d3.range(-25, 16, 5), label: d => (Math.abs(d % 10) === 5 && d !== 5 ? hy(String)(d) : ""), endX: 788 });
  xAxis(g, x, 688, d3.range(1999, 2018, 2), d3.range(2000, 2019, 2).map(v => ({ v, at: v })), 705.5, yy);
  dashedZero(g, yL(0), 464, 766);
  path(g, tradeGBP, x, yR, RED, 1.6);
  path(g, importPrices, x, yL, NAVY, 1.8);
  txt(g, 466, 572, "% y/y");
  txt(g, 617, 572, "UK", { a: "middle" });
  txt(g, 761, 572, "% y/y", { a: "end" });
  txt(g, 761, 584.5, "(reversed)", { a: "end" });
  g.append("line").attr("x1", 487.3).attr("x2", 487.3).attr("y1", 605).attr("y2", 582).attr("stroke", "#111").attr("stroke-width", 0.9);
  g.append("path").attr("d", "M484.3,585L487.3,580L490.3,585").attr("fill", "none").attr("stroke", "#111").attr("stroke-width", 0.9);
  txt(g, 494, 595, "weaker GBP,", { s: 7.8 });
  txt(g, 494, 604.5, "higher import prices", { s: 7.8 });
  txt(g, 648, 610, "Import prices,", { c: NAVY, s: 11 });
  txt(g, 648, 623, "ex oil (lhs)", { c: NAVY, s: 11 });
  txt(g, 551, 685.5, "Trade weighted GBP (rhs)", { c: RED, s: 11 });
  tag(g, 773, 635, 23, 10, 768.5, 640, RED, "1.72");
  tag(g, 774.5, 647, 28, 10.5, 768.5, 651.5, NAVY, "0.732");
})();

// ---------- 7. Food prices ----------
(function () {
  const g = frame(8, 398, 764, 1014, ["Food price inflation has peaked"], 795, 813,
    "Source: ONS, Bloomberg, Macrobond Financial", 1001);
  const x = d3.scaleLinear().domain([2005, 2018]).range([54.7, 335.1]);
  const yL = d3.scaleLinear().domain([-5, 15]).range([950.7, 827.7]);
  const yR = d3.scaleLinear().domain([-30, 70]).range([950.7, 827.7]);
  const lv = d3.range(-5, 15.01, 2.5);
  const lab = d => (d % 5 === 0 ? hy(d3.format(".1f"))(d) : "");
  grid(g, yL, [-5, 0, 5, 10, 15], 52, 362);
  yAxis(g, yL, { side: "left", x: 52, ticks: lv, label: lab, pad: 4 });
  yAxis(g, yR, { side: "right", x: 362.3, ticks: d3.range(-30, 71, 10), label: d => (Math.abs(d % 20) === 10 ? hy(String)(d) : ""), endX: 388 });
  xAxis(g, x, 957.7, d3.range(2005, 2020), d3.range(2005, 2019).map(v => ({ v, at: v + 0.45 })), 973, yy);
  dashedZero(g, yL(0), 52, 362);
  path(g, cpiFoodInfl, x, yL, NAVY, 2);
  path(g, hwwiFood, x, yR, RED, 2);
  txt(g, 54, 834, "% y/y");
  txt(g, 205.5, 834, "CPI food (lhs)", { a: "middle", c: NAVY });
  txt(g, 360.5, 834, "% y/y", { a: "end" });
  txt(g, 61, 951.5, "HWWI food index, GBP (7m lead) (rhs)", { c: RED, s: 10.8 });
})();

// ---------- 8. Oil prices ----------
(function () {
  const g = frame(422, 810, 764, 1014, ["Oil price increases since the bottom in 2016 have also driven", "headline inflation higher"], 787, 813,
    "Source: Bloomberg, UK government, Macrobond Financial", 1001);
  const x = d3.scaleLinear().domain([2013, 2018]).range([467.3, 723.2]);
  const yL = d3.scaleLinear().domain([70, 105]).range([950.3, 827.7]);
  const yR = d3.scaleLinear().domain([20, 100]).range([950.7, 840.7]);
  const lv = d3.range(70, 106, 5);
  grid(g, yL, lv, 464.5, 771);
  yAxis(g, yL, { side: "left", x: 464.5, ticks: lv, label: String, pad: 6.5 });
  yAxis(g, yR, { side: "right", x: 771.3, ticks: d3.range(20, 111, 10), label: d => (d % 20 === 0 && d <= 100 ? String(d) : ""), endX: 794 });
  xAxis(g, x, 957.7, d3.range(2013, 2019), d3.range(2013, 2019).map(v => ({ v, at: v + 0.5 })), 973, yy);
  path(g, gasoline, x, yL, NAVY, 2.2);
  path(g, diesel, x, yL, "#8e8e8e", 3);
  path(g, brent, x, yL, RED, 1.4);
  txt(g, 466, 832, "Index 2013=100");
  txt(g, 651, 832, "Index 2013=100");
  txt(g, 479, 907, "Diesel prices (lhs)", { c: "#8e8e8e", s: 11 });
  txt(g, 490, 925, "Brent oil price (lhs)", { c: RED, s: 11 });
  txt(g, 494, 943, "Gasoline prices (lhs)", { c: NAVY, s: 11 });
})();
</script>
</body>
</html>
